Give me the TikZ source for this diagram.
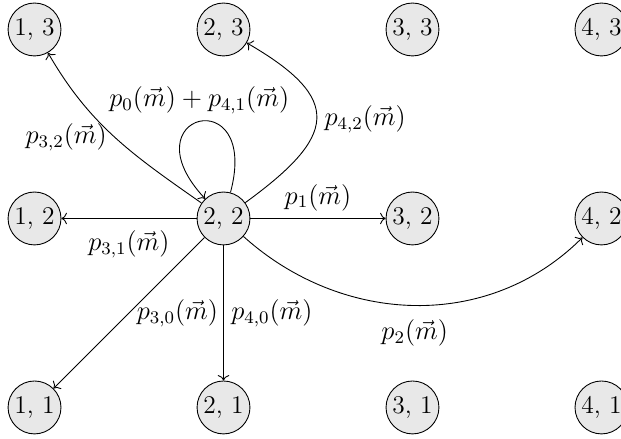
\documentclass[tikz,border=0pt]{standalone}
\usepackage{tikz}
\usetikzlibrary{arrows.meta,positioning,calc}
\definecolor{statefill}{RGB}{232,232,232}

\begin{document}
\begin{tikzpicture}[font=\fontsize{11.5}{14}\selectfont,
    state/.style={circle,draw,fill=statefill,minimum size=8.4mm,inner sep=1pt},
    move/.style={->,thin}]
        \useasboundingbox (-0.548,-0.5) rectangle (9.31,6.468);
        \foreach \i in {1,...,4}{
          \foreach \j in {1,2,3}{
            \node[state] (s\i\j) at ({3*(\i-1)},{3*(\j-1)}) {\i, \j};
          }
        }
        \draw[move] (s22) to[out=145,in=-60] node[left] {$p_{3,2}(\vec{m})$} (s13);
        \draw[move] (s22) to[out=75,in=133,min distance=1.85cm] node[above] {$p_0(\vec{m})+p_{4,1}(\vec{m})$} (s22);
        \draw[move] (s22) to[out=36,in=-30,looseness=1.8] node[right] {$p_{4,2}(\vec{m})$} (s23);
        \draw[move] (s22) -- node[above] {$p_1(\vec{m})$} (s32);
        \draw[move] (s22) -- node[below,yshift=-2pt] {$p_{3,1}(\vec{m})$} (s12);
        \draw[move] (s22) to[out=-42,in=-135] node[below=3pt] {$p_2(\vec{m})$} (s42);
        \draw[move] (s22) -- node[right] {$p_{3,0}(\vec{m})$} (s11);
        \draw[move] (s22) -- node[right] {$p_{4,0}(\vec{m})$} (s21);
      \end{tikzpicture}
\end{document}
